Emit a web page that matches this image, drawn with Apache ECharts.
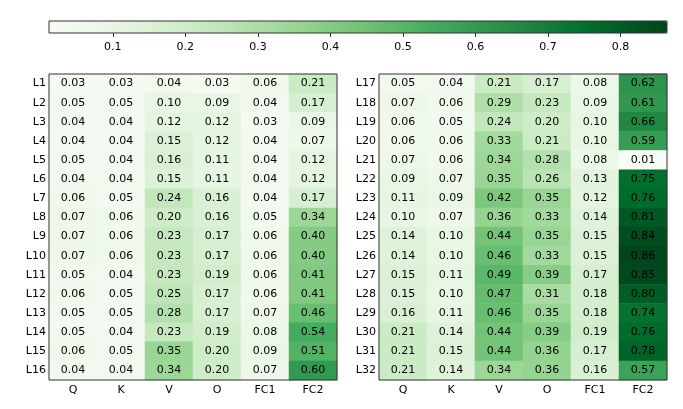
<!DOCTYPE html>
<html lang="en">
<head>
    <meta charset="UTF-8">
    <title>Layer heatmap</title>
    <script src="https://cdn.jsdelivr.net/npm/echarts@6/dist/echarts.min.js"></script>
    <style>
        html, body { margin: 0; padding: 0; background: #fff; }
    </style>
</head>
<body>
<div id="main" style="width: 683px;height:409px;"></div>
<script>
    var cols = ['Q', 'K', 'V', 'O', 'FC1', 'FC2'];
    var layersLeft = [];
    var layersRight = [];
    for (var i = 1; i <= 16; i++) { layersLeft.push('L' + i); layersRight.push('L' + (i + 16)); }

    // values per module, layers L1..L32
    var qVals   = [0.03,0.05,0.04,0.04,0.05,0.04,0.06,0.07,0.07,0.07,0.05,0.06,0.05,0.05,0.06,0.04,
                   0.05,0.07,0.06,0.06,0.07,0.09,0.11,0.10,0.14,0.14,0.15,0.15,0.16,0.21,0.21,0.21];
    var kVals   = [0.03,0.05,0.04,0.04,0.04,0.04,0.05,0.06,0.06,0.06,0.04,0.05,0.05,0.04,0.05,0.04,
                   0.04,0.06,0.05,0.06,0.06,0.07,0.09,0.07,0.10,0.10,0.11,0.10,0.11,0.14,0.15,0.14];
    var vVals   = [0.04,0.10,0.12,0.15,0.16,0.15,0.24,0.20,0.23,0.23,0.23,0.25,0.28,0.23,0.35,0.34,
                   0.21,0.29,0.24,0.33,0.34,0.35,0.42,0.36,0.44,0.46,0.49,0.47,0.46,0.44,0.44,0.34];
    var oVals   = [0.03,0.09,0.12,0.12,0.11,0.11,0.16,0.16,0.17,0.17,0.19,0.17,0.17,0.19,0.20,0.20,
                   0.17,0.23,0.20,0.21,0.28,0.26,0.35,0.33,0.35,0.33,0.39,0.31,0.35,0.39,0.36,0.36];
    var fc1Vals = [0.06,0.04,0.03,0.04,0.04,0.04,0.04,0.05,0.06,0.06,0.06,0.06,0.07,0.08,0.09,0.07,
                   0.08,0.09,0.10,0.10,0.08,0.13,0.12,0.14,0.15,0.15,0.17,0.18,0.18,0.19,0.17,0.16];
    var fc2Vals = [0.21,0.17,0.09,0.07,0.12,0.12,0.17,0.34,0.40,0.40,0.41,0.41,0.46,0.54,0.51,0.60,
                   0.62,0.61,0.66,0.59,0.01,0.75,0.76,0.81,0.84,0.86,0.85,0.80,0.74,0.76,0.78,0.57];

    var cbTicks = [0.1, 0.2, 0.3, 0.4, 0.5, 0.6, 0.7, 0.8];
    var cbMin = 0.012;
    var cbMax = 0.864;
    var greens = ['#f7fcf5','#e5f5e0','#c7e9c0','#a1d99b','#74c476','#41ab5d','#238b45','#006d2c','#00441b'];

    var allCols = [qVals, kVals, vVals, oVals, fc1Vals, fc2Vals];
    function cells(offset) {
        var out = [];
        for (var c = 0; c < allCols.length; c++) {
            for (var r = 0; r < 16; r++) {
                out.push([c, r, allCols[c][r + offset]]);
            }
        }
        return out;
    }

    var font = 'DejaVu Sans';
    var myChart = echarts.init(document.getElementById('main'));

    function catX(idx) {
        return {
            type: 'category', gridIndex: idx, data: cols,
            axisLine: {show: false}, axisTick: {show: false}, splitArea: {show: false},
            axisLabel: {color: '#000', fontSize: 11, fontFamily: font, margin: 5}
        };
    }
    function catY(idx, data) {
        return {
            type: 'category', gridIndex: idx, data: data, inverse: true,
            axisLine: {show: false}, axisTick: {show: false}, splitArea: {show: false},
            axisLabel: {color: '#000', fontSize: 11, fontFamily: font, margin: 3}
        };
    }
    var cellLabel = {
        show: true, color: '#000', fontSize: 11, fontFamily: font,
        formatter: function (p) { return p.value[2].toFixed(2); }
    };

    var option = {
        animation: false,
        grid: [
            {left: 49, top: 74, width: 288, height: 306, show: true, borderColor: '#333', borderWidth: 1, backgroundColor: 'transparent', z: 10},
            {left: 379, top: 74, width: 288, height: 306, show: true, borderColor: '#333', borderWidth: 1, backgroundColor: 'transparent', z: 10},
            {left: 49, top: 21, width: 618, height: 12, show: true, borderColor: '#333', borderWidth: 1, backgroundColor: 'transparent', z: 10}
        ],
        xAxis: [
            catX(0), catX(1),
            {
                type: 'value', gridIndex: 2, min: cbMin, max: cbMax, position: 'bottom',
                axisLine: {show: false}, splitLine: {show: false},
                axisTick: {show: true, length: 4, lineStyle: {color: '#333'}, customValues: cbTicks},
                axisLabel: {color: '#000', fontSize: 11, fontFamily: font, margin: 9, customValues: cbTicks,
                    formatter: function (v) { return v.toFixed(1); }}
            }
        ],
        yAxis: [
            catY(0, layersLeft), catY(1, layersRight),
            {type: 'value', gridIndex: 2, show: false, min: 0, max: 1}
        ],
        visualMap: {
            type: 'continuous', min: cbMin, max: cbMax, orient: 'horizontal',
            left: 49, top: 21, itemWidth: 12, itemHeight: 618, padding: 0,
            calculable: false, seriesIndex: [0, 1],
            inRange: {color: greens}
        },
        series: [
            {type: 'heatmap', xAxisIndex: 0, yAxisIndex: 0, data: cells(0), label: cellLabel},
            {type: 'heatmap', xAxisIndex: 1, yAxisIndex: 1, data: cells(16), label: cellLabel}
        ]
    };
    myChart.setOption(option);
</script>
</body>
</html>
